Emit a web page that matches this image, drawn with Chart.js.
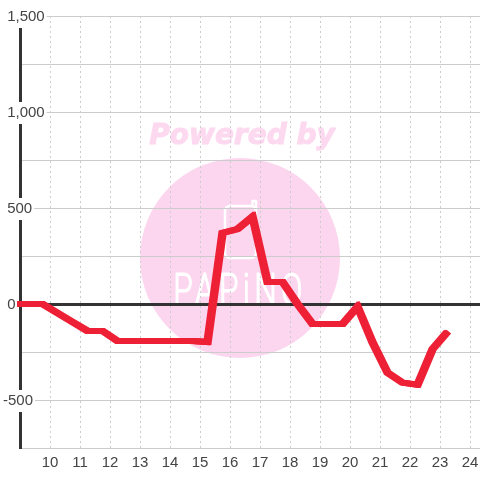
<!DOCTYPE html>
<html>
<head>
<meta charset="utf-8">
<style>
html, body { margin: 0; padding: 0; background: #fff; }
#wrap { width: 480px; height: 480px; }
</style>
<script src="https://cdn.jsdelivr.net/npm/chart.js@4/dist/chart.umd.min.js"></script>
</head>
<body>
<div id="wrap"><canvas id="chart" width="480" height="480"></canvas></div>
<script>
var hours = [8.75, 9.25, 9.75, 10.25, 10.75, 11.25, 11.75, 12.25, 12.75, 13.25, 13.75, 14.25, 14.75, 15.25, 15.75,
    16.25, 16.75, 17.25, 17.75, 18.25, 18.75, 19.25, 19.75, 20.25, 20.75, 21.25, 21.75, 22.25, 22.75, 23.25];
var values = [0, 0, 0, -47, -94, -140, -140, -193, -193, -193, -193, -193, -193, -198, 370,
    390, 455, 115, 115, 0, -104, -104, -104, -14, -200, -358, -410, -420, -235, -144];
var yTicks = [-500, 0, 500, 1000, 1500];

var points = [];
for (var i = 0; i < hours.length; i++) {
    points.push({ x: hours[i], y: values[i] });
}

// watermark sits behind the grid
var watermark = {
    id: 'watermark',
    beforeDraw: function (chart) {
        var c = chart.ctx;
        c.save();
        c.fillStyle = '#fcd6ef';
        c.beginPath();
        c.arc(240, 258, 100, 0, Math.PI * 2);
        c.fill();

        c.font = 'italic bold 28px "DejaVu Sans"';
        c.fillStyle = '#fdd9f0';
        c.strokeStyle = '#fdd9f0';
        c.lineWidth = 1;
        c.textAlign = 'center';
        c.textBaseline = 'middle';
        c.fillText('Powered by', 242, 137);
        c.strokeText('Powered by', 242, 137);

        c.strokeStyle = '#fff';
        c.lineWidth = 2.5;
        c.lineJoin = 'round';
        c.beginPath();
        c.roundRect(225, 206, 31, 52, 5);
        c.moveTo(252.5, 206);
        c.lineTo(252.5, 201);
        c.lineTo(256, 201);
        c.lineTo(256, 210);
        c.stroke();

        c.translate(240, 305);
        c.scale(0.72, 1);
        c.font = '300 44px Roboto';
        c.fillStyle = '#fff';
        c.strokeStyle = '#fff';
        c.lineWidth = 1.2;
        c.textBaseline = 'alphabetic';
        c.letterSpacing = '6px';
        c.fillText('PAPiNO', 0, 0);
        c.strokeText('PAPiNO', 0, 0);
        c.restore();
    }
};

// the line in the reference is wider on its steep parts than on the flat ones
var widePen = {
    id: 'widePen',
    afterDatasetDraw: function (chart, args) {
        var c = chart.ctx;
        var a = chart.chartArea;
        [-1.25, 1.25].forEach(function (dx) {
            c.save();
            c.beginPath();
            c.rect(a.left - 3, a.top, a.right - a.left + 3, a.bottom - a.top);
            c.clip();
            c.translate(dx, 0);
            args.meta.dataset.draw(c, a);
            c.restore();
        });
    }
};

var ctx = document.getElementById('chart').getContext('2d');
var myChart = new Chart(ctx, {
    type: 'line',
    data: {
        datasets: [{
            data: points,
            borderColor: '#ee2036',
            borderWidth: 6,
            pointRadius: 0,
            tension: 0,
            fill: false
        }]
    },
    options: {
        responsive: false,
        animation: false,
        layout: { padding: { left: 20, top: 16, right: 0, bottom: 0 } },
        plugins: { legend: { display: false }, title: { display: false }, tooltip: { enabled: false } },
        scales: {
            x: {
                type: 'linear',
                min: 9,
                max: 24.33,
                afterBuildTicks: function (scale) {
                    scale.ticks = scale.ticks.filter(function (t) {
                        return t.value > 9 && t.value % 1 === 0;
                    });
                },
                afterFit: function (scale) {
                    scale.height = 32;
                    scale.paddingLeft = 0;
                    scale.paddingRight = 0;
                },
                grid: { color: '#ccc', lineWidth: 1, drawTicks: false },
                border: { display: false, dash: [2, 3] },
                ticks: {
                    stepSize: 1,
                    includeBounds: false,
                    autoSkip: false,
                    maxRotation: 0,
                    padding: 6,
                    color: '#444',
                    font: { family: '"Liberation Sans"', size: 15 }
                }
            },
            y: {
                min: -750,
                max: 1500,
                afterFit: function (scale) {
                    scale.width = 0;
                },
                grid: {
                    drawTicks: false,
                    color: function (c) { return c.tick.value === 0 ? '#333' : '#ccc'; },
                    lineWidth: function (c) { return c.tick.value === 0 ? 3 : 1; }
                },
                border: { color: '#333', width: 3 },
                ticks: {
                    stepSize: 250,
                    autoSkip: false,
                    mirror: true,
                    padding: -17,
                    labelOffset: 1,
                    color: '#444',
                    font: { family: '"Liberation Sans"', size: 15 },
                    showLabelBackdrop: true,
                    backdropPadding: 2,
                    backdropColor: function (c) {
                        return yTicks.indexOf(c.tick.value) >= 0 ? '#fff' : 'rgba(255,255,255,0)';
                    },
                    callback: function (v) {
                        if (yTicks.indexOf(v) < 0) return '';
                        // leading space lets the minus sign hang left of the digits
                        return v < 0 ? v.toLocaleString('en-US') : ' ' + v.toLocaleString('en-US');
                    }
                }
            }
        }
    },
    plugins: [watermark, widePen]
});
</script>
</body>
</html>
